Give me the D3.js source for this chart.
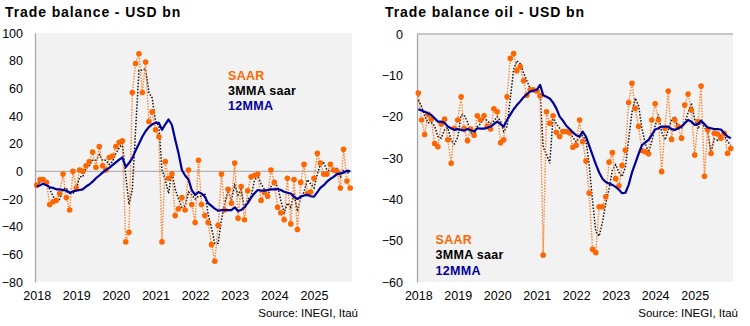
<!DOCTYPE html>
<html>
<head>
<meta charset="utf-8">
<script src="https://cdn.jsdelivr.net/npm/d3@7"></script>
<style>
  body { margin: 0; background: #ffffff; }
  svg text { font-family: "Liberation Sans", Arial, sans-serif; }
</style>
</head>
<body>
<svg id="chart" width="750" height="326"></svg>
<script>
// Monthly series, January 2018 through December 2025
const firstMonth = "2018-01-01";
const yearLabels = [2018, 2019, 2020, 2021, 2022, 2023, 2024, 2025];
const tradeTicks = [100, 80, 60, 40, 20, 0, -20, -40, -60, -80];
const oilTicks = [0, -10, -20, -30, -40, -50, -60];
const legendLabels = ["SAAR", "3MMA saar", "12MMA"];
const titles = ["Trade balance - USD bn", "Trade balance oil - USD bn"];
const sourceNote = "Source: INEGI, Itaú";

// Total trade balance, USD bn
const tradeSaar = [
  -10, -6, -6, -8, -24, -22, -21, -16, -2, -19, -28, 0,
  -12, 1, 0, 4, 7, 14, 3, 18, 4, 1, 10, 11,
  18, 21, 22, -51, -44, 57, 78, 85, 57, 79, 36, 43,
  30, 25, -51, 7, -5, -2, -32, -27, -19, -28, 1, -24,
  -37, 8, -24, -32, -37, -53, -65, -39, -2, -28, -13, -23,
  6, -34, -11, -35, -14, -4, -3, -2, -21, -15, -18, 1,
  -8, -26, -30, -35, -5, -38, -6, -42, -8, 5, -16, -15,
  -5, 13, 6, -2, -2, 5, 1, 0, -12, 16, -7, -12
];
const tradeMma3 = [
  -10, -8, -7, -7, -13, -18, -22, -20, -13, -12, -16, -16,
  -13, -4, -4, 2, 4, 8, 8, 12, 8, 8, 5, 7,
  13, 17, 20, -3, -24, -13, 30, 73, 73, 74, 57, 53,
  36, 33, 1, -6, -16, 0, -13, -20, -26, -25, -15, -17,
  -20, -18, -18, -16, -31, -41, -52, -52, -35, -23, -14, -21,
  -10, -17, -13, -27, -20, -18, -7, -3, -9, -13, -18, -11,
  -8, -11, -21, -30, -23, -26, -16, -29, -19, -15, -6, -9,
  -12, -2, 5, 6, 1, 0, 1, 2, -4, 1, -1, -1
];
const tradeMma12 = [
  -11, -10, -9, -10, -11.5, -12, -13, -13, -13.5, -14, -15.5, -14.5,
  -14, -13.5, -13, -11, -9.5, -7.5, -5, -3, -1, 1, 2.5, 4.5,
  6.5, 8.5, 10, 3, 6, 9.5, 15, 20, 25, 29, 32, 34,
  35, 35, 30, 34, 37.5, 33.5, 23, 13, 1, -3, -6, -13.5,
  -17, -15, -16, -18.4, -23, -25, -27, -28.5, -28, -28, -28, -28,
  -26, -28.7, -28, -26, -23, -19, -16, -13.5, -14, -14, -13.5, -13,
  -13, -12.8, -13.5, -14.7, -15.5, -16, -18.5, -20, -18.3, -17.5, -17, -18,
  -18.3, -15, -12, -10, -7.5, -5.5, -4, -2, -1.5, -1, 0.5, 0
];

// Oil trade balance, USD bn
const oilSaar = [
  -14.3, -20.8, -24.3, -19.4, -20.6, -26.5, -27.3, -21.8, -20.6, -25.6, -31.3, -22.8,
  -20.8, -15.2, -22.8, -25.8, -23, -24.5, -19.8, -20.8, -19.8, -22.3, -23, -18.1,
  -18.8, -26.3, -25.6, -15.2, -5.9, -4.7, -8.9, -7.9, -11.3, -14.8, -13.5, -13.5,
  -13.8, -15, -53.5, -18.8, -21.6, -19.8, -23.8, -24.8, -23.6, -23.6, -23.9, -27.4,
  -26.9, -20.8, -26, -30.7, -38.5, -52.1, -52.9, -41.8, -41.8, -39.4, -31, -28.7,
  -35, -36.7, -31.8, -28.1, -16.6, -11.9, -18, -22.4, -28.2, -28.5, -29, -20.8,
  -16.9, -20.8, -33.3, -22.8, -13.8, -25.5, -20.8, -22.4, -25.2, -17.2, -14.5, -18.4,
  -29.3, -21.2, -12.6, -34.4, -23.2, -28.9, -24, -24.2, -25.2, -24, -28.9, -27.7
];
const oilMma3 = [
  -16, -17.6, -19.8, -21.5, -21.4, -22.2, -24.8, -25.2, -23.2, -22.7, -25.8, -26.6,
  -25, -19.6, -19.6, -21.3, -23.9, -24.4, -22.4, -21.7, -20.1, -21, -21.7, -21.1,
  -20, -21.1, -23.6, -22.4, -15.6, -8.6, -6.5, -7.2, -9.4, -11.3, -13.2, -13.9,
  -13.6, -14.1, -27.4, -29.1, -31.3, -20.1, -21.7, -22.8, -24.1, -24, -23.7, -25,
  -26.1, -25, -24.6, -25.8, -31.7, -40.4, -47.8, -48.9, -45.5, -41, -37.4, -33,
  -31.6, -33.5, -34.5, -32.2, -25.5, -18.9, -15.5, -17.4, -22.9, -26.4, -28.6, -26.1,
  -22.2, -19.5, -23.7, -25.6, -23.3, -20.7, -20, -22.9, -22.8, -21.6, -19, -16.7,
  -20.7, -23, -21, -22.7, -23.4, -28.8, -25.4, -25.7, -24.5, -24.5, -26, -26.9
];
const oilMma12 = [
  -18.2, -18.5, -18.8, -19.2, -19.6, -20.4, -21.2, -21.2, -21.5, -22.4, -22.8, -23.2,
  -23, -23.2, -23.4, -23, -23.3, -23.6, -22.8, -22.9, -22.9, -22.7, -22.4, -21.8,
  -21.2, -21.8, -22.4, -20.8, -19.5, -18.2, -17.2, -16.3, -15.3, -14.6, -13.9, -13.7,
  -13.5, -12.3, -14.8, -15.2, -15.6, -16.6, -18, -20, -21, -22.2, -23, -23.8,
  -24.5, -24.8, -23.6, -24.8, -27, -29.3, -31.5, -33.5, -35, -35.8, -36.2, -36.5,
  -37, -37.7, -38.5, -38.4, -36.5, -33.5, -31.3, -29, -26.9, -26.3, -25.6, -24.4,
  -23.1, -22.8, -22.4, -22.4, -22.4, -23, -23.2, -22.8, -22.4, -21.6, -20.8, -21.2,
  -22, -21.8, -21, -21.8, -22.6, -22.8, -23, -23, -23.1, -24, -24.8, -25.2
];

const colors = { saar: "#ff6600", saarLine: "#ff7f2a", mma3: "#111111", mma12: "#000099" };

const start = new Date(firstMonth + "T00:00:00");
const months = d3.range(tradeSaar.length).map(i => d3.timeMonth.offset(start, i));

const svg = d3.select("#chart");

function drawPanel(cfg) {
  const g = svg.append("g");

  const x = d3.scaleTime()
    .domain([months[0], months[months.length - 1]])
    .range([cfg.dataLeft, cfg.dataRight]);
  const y = d3.scaleLinear()
    .domain([cfg.ticks[cfg.ticks.length - 1], cfg.ticks[0]])
    .range([cfg.bottom, cfg.top]);

  // plot background
  g.append("rect")
    .attr("x", cfg.left).attr("y", cfg.top)
    .attr("width", cfg.right - cfg.left).attr("height", cfg.bottom - cfg.top)
    .attr("fill", "#f2f2f2");

  // zero line
  g.append("line")
    .attr("x1", cfg.left).attr("x2", cfg.right)
    .attr("y1", y(0)).attr("y2", y(0))
    .attr("stroke", "#b4b4b4").attr("stroke-width", 1.3);

  // value axis
  const yAxis = g.append("g")
    .attr("transform", `translate(${cfg.left},0)`)
    .call(d3.axisLeft(y).tickValues(cfg.ticks).tickSize(0).tickSizeOuter(0)
      .tickPadding(cfg.left - cfg.labelRight).tickFormat(d3.format("d")));
  yAxis.select(".domain").attr("stroke", "#a6a6a6").attr("stroke-width", 1.3);
  yAxis.selectAll("text").attr("font-size", 12.5).attr("fill", "#000");

  // year axis
  const xAxis = g.append("g")
    .attr("transform", `translate(0,${cfg.bottom})`)
    .call(d3.axisBottom(x)
      .tickValues(yearLabels.map(yr => new Date(yr, 0, 1)))
      .tickFormat(d3.timeFormat("%Y")).tickSize(0).tickPadding(9));
  xAxis.select(".domain").remove();
  xAxis.selectAll("text").attr("font-size", 12.5).attr("fill", "#000");

  const line = d3.line().x((d, i) => x(months[i])).y(d => y(d));

  // 3-month moving average, dotted
  g.append("path").datum(cfg.mma3)
    .attr("d", line).attr("fill", "none")
    .attr("stroke", colors.mma3).attr("stroke-width", 1.5)
    .attr("stroke-dasharray", "1.5,1.6");

  // SAAR, dotted with markers
  g.append("path").datum(cfg.saar)
    .attr("d", line).attr("fill", "none")
    .attr("stroke", colors.saarLine).attr("stroke-width", 1.4)
    .attr("stroke-dasharray", "1.4,1.4");
  g.selectAll("circle.saar").data(cfg.saar).join("circle")
    .attr("class", "saar")
    .attr("cx", (d, i) => x(months[i])).attr("cy", d => y(d))
    .attr("r", 2.8).attr("fill", colors.saar);

  // 12-month moving average
  g.append("path").datum(cfg.mma12)
    .attr("d", line).attr("fill", "none")
    .attr("stroke", colors.mma12).attr("stroke-width", 2.2)
    .attr("stroke-linejoin", "round");

  // legend
  const legendColors = [colors.saar, "#000000", colors.mma12];
  g.selectAll("text.legend").data(legendLabels).join("text")
    .attr("class", "legend")
    .attr("x", cfg.legendX).attr("y", (d, i) => cfg.legendY + i * 15.3)
    .attr("font-size", 12.5).attr("font-weight", "bold")
    .attr("letter-spacing", 0.3)
    .attr("fill", (d, i) => legendColors[i])
    .text(d => d);

  // title
  g.append("text")
    .attr("x", cfg.titleX).attr("y", 17)
    .attr("font-size", 14).attr("font-weight", "bold")
    .attr("letter-spacing", 0.9)
    .text(cfg.title);

  // source
  g.append("text")
    .attr("x", cfg.sourceX).attr("y", 317)
    .attr("text-anchor", "end").attr("font-size", 11.5)
    .text(sourceNote);
}

drawPanel({
  title: titles[0], titleX: 5,
  left: 35, right: 352, top: 33, bottom: 282,
  dataLeft: 36.7, dataRight: 350.2, labelRight: 23,
  ticks: tradeTicks,
  saar: tradeSaar, mma3: tradeMma3, mma12: tradeMma12,
  legendX: 228, legendY: 79.5, sourceX: 358
});

drawPanel({
  title: titles[1], titleX: 385,
  left: 417, right: 733, top: 34, bottom: 282,
  dataLeft: 418.3, dataRight: 730.8, labelRight: 403,
  ticks: oilTicks,
  saar: oilSaar, mma3: oilMma3, mma12: oilMma12,
  legendX: 435.5, legendY: 244, sourceX: 738
});
</script>
</body>
</html>
